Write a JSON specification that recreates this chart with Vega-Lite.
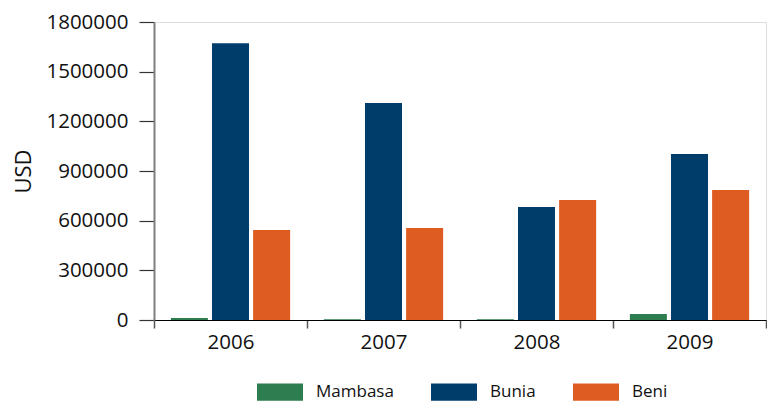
{
  "$schema": "https://vega.github.io/schema/vega-lite/v6.json",
  "width": 612,
  "height": 298,
  "autosize": {"type": "none"},
  "padding": {"left": 154, "top": 22, "right": 1, "bottom": 83},
  "background": "white",
  "data": {
    "values": [
      {"year": "2006", "city": "Mambasa", "usd": 12000},
      {"year": "2006", "city": "Bunia", "usd": 1671000},
      {"year": "2006", "city": "Beni", "usd": 544000},
      {"year": "2007", "city": "Mambasa", "usd": 5000},
      {"year": "2007", "city": "Bunia", "usd": 1310000},
      {"year": "2007", "city": "Beni", "usd": 556000},
      {"year": "2008", "city": "Mambasa", "usd": 5000},
      {"year": "2008", "city": "Bunia", "usd": 683000},
      {"year": "2008", "city": "Beni", "usd": 725000},
      {"year": "2009", "city": "Mambasa", "usd": 36000},
      {"year": "2009", "city": "Bunia", "usd": 1002000},
      {"year": "2009", "city": "Beni", "usd": 785000}
    ]
  },
  "mark": {"type": "bar"},
  "encoding": {
    "x": {
      "field": "year",
      "type": "nominal",
      "scale": {"paddingInner": 0, "paddingOuter": 0},
      "axis": {
        "title": null,
        "labelAngle": 0,
        "tickBand": "extent",
        "domainColor": "#000000",
        "domainWidth": 1.2,
        "tickColor": "#555555",
        "tickWidth": 1.5,
        "tickSize": 8,
        "labelPadding": 4,
        "labelFont": "Open Sans",
        "labelFontSize": 20.5,
        "labelColor": "#111111"
      }
    },
    "xOffset": {
      "field": "city",
      "type": "nominal",
      "sort": ["Mambasa", "Bunia", "Beni"],
      "scale": {"paddingInner": 0.1, "paddingOuter": 0.41}
    },
    "y": {
      "field": "usd",
      "type": "quantitative",
      "scale": {"domain": [0, 1800000], "nice": false},
      "axis": {
        "title": "USD",
        "values": [0, 300000, 600000, 900000, 1200000, 1500000, 1800000],
        "format": "d",
        "grid": false,
        "domainColor": "#7f7f7f",
        "domainWidth": 2,
        "tickColor": "#333333",
        "tickWidth": 1.2,
        "tickSize": 15,
        "labelPadding": 11,
        "labelFont": "Open Sans",
        "labelFontSize": 20.5,
        "labelColor": "#111111",
        "titleFont": "Open Sans",
        "titleFontSize": 22,
        "titleFontWeight": "normal",
        "titleColor": "#111111",
        "titlePadding": 10
      }
    },
    "color": {
      "field": "city",
      "type": "nominal",
      "sort": ["Mambasa", "Bunia", "Beni"],
      "scale": {
        "domain": ["Mambasa", "Bunia", "Beni"],
        "range": ["#2d7d50", "#003d6a", "#de5c22"]
      },
      "legend": {
        "title": null,
        "orient": "none",
        "direction": "horizontal",
        "legendX": 103,
        "legendY": 347,
        "symbolType": "M-1,-0.38H1V0.38H-1Z",
        "symbolSize": 2116,
        "symbolStrokeWidth": 0,
        "symbolOpacity": 1,
        "labelFont": "Open Sans",
        "labelFontSize": 17,
        "labelColor": "#111111",
        "labelOffset": 13,
        "columnPadding": 37
      }
    }
  }
}
